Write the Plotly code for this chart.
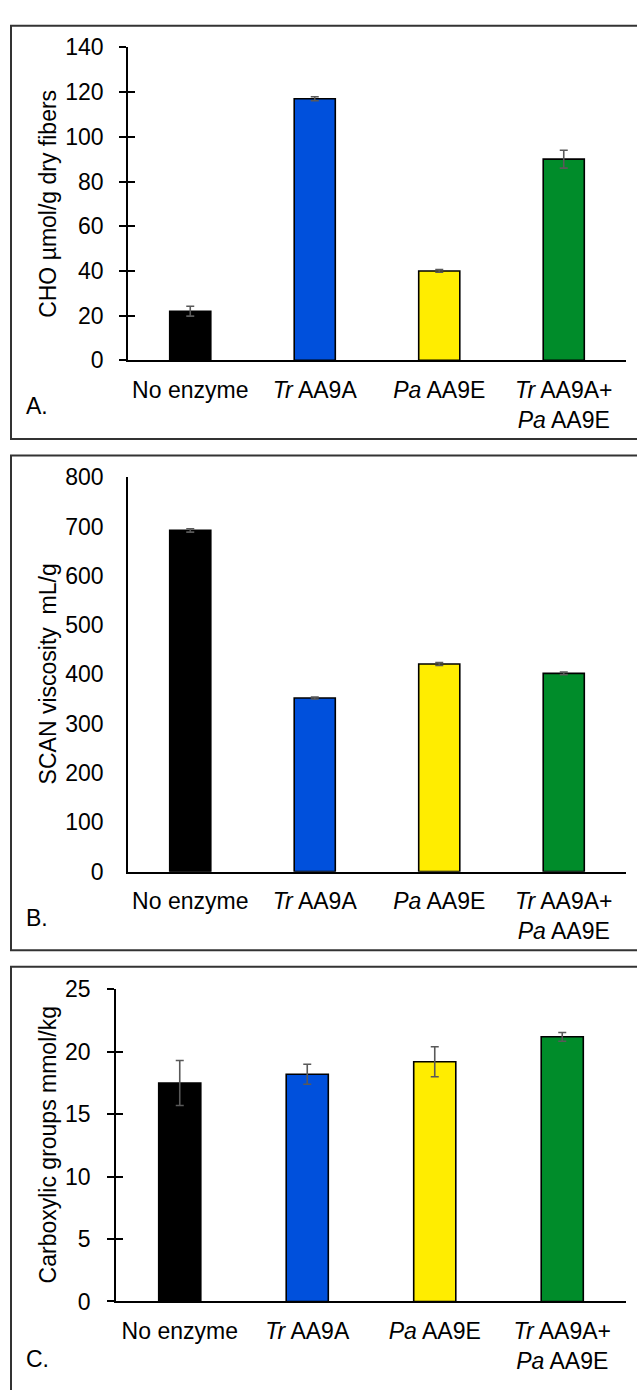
import plotly.graph_objects as go

W, H = 637, 1390

categories = ["No enzyme", "Tr AA9A", "Pa AA9E", "Tr AA9A+Pa AA9E"]
tick_labels = ["No enzyme", "<i>Tr</i> AA9A", "<i>Pa</i> AA9E", "<i>Tr</i> AA9A+<br><i>Pa</i> AA9E"]
bar_colors = ["#000000", "#0050DC", "#FFED00", "#008C2A"]

cho_values = [22, 117, 40, 90]
cho_errors = [2.2, 0.9, 0.6, 4.0]

visc_values = [692, 352, 421, 402]
visc_errors = [3.5, 2.0, 3.0, 2.5]

carb_values = [17.5, 18.2, 19.2, 21.2]
carb_errors = [1.8, 0.8, 1.2, 0.35]

FONT = "Arial, 'Liberation Sans', sans-serif"
FS = 23
TXT = "#000000"
ERRC = "#595959"


def px_x(p):
    return p / W


def px_y(p):
    return 1 - p / H


panels = [
    dict(v=cho_values, e=cho_errors, ymax=140, dtick=20, xd=(128, 626), yd=(35, 354), ticks=True,
         ystand=11, title="CHO µmol/g dry fibers", letter="A.", letter_y=401, box=(11, 13, 660, 434)),
    dict(v=visc_values, e=visc_errors, ymax=800, dtick=100, xd=(128, 626), yd=(473, 875), ticks=False,
         ystand=18, title="SCAN viscosity  mL/g", letter="B.", letter_y=922, box=(11, 451, 660, 955)),
    dict(v=carb_values, e=carb_errors, ymax=25, dtick=5, xd=(116, 626), yd=(995, 1313), ticks=True,
         ystand=12, title="Carboxylic groups mmol/kg", letter="C.", letter_y=1372, box=(11, 972, 660, 1420)),
]

XSTAND = 8

fig = go.Figure()
layout = dict(
    width=W, height=H, margin=dict(l=0, r=0, t=0, b=0),
    paper_bgcolor="white", plot_bgcolor="rgba(0,0,0,0)",
    showlegend=False, font=dict(family=FONT, size=FS, color=TXT),
    shapes=[], annotations=[],
)


def ax_names(n):
    return (f"x{n}" if n > 1 else "x", f"y{n}" if n > 1 else "y",
            f"xaxis{n}" if n > 1 else "xaxis", f"yaxis{n}" if n > 1 else "yaxis")


n = 1
for p in panels:
    xa, ya, xkey, ykey = ax_names(n)
    n += 1

    fig.add_trace(go.Bar(
        x=categories, y=p["v"], xaxis=xa, yaxis=ya,
        marker=dict(color=bar_colors, line=dict(color="#000000", width=1.6)),
        width=0.33,
        error_y=dict(type="data", array=p["e"], visible=True, color=ERRC, thickness=1.6, width=4),
        hoverinfo="skip",
    ))

    layout[xkey] = dict(
        domain=[px_x(p["xd"][0]), px_x(p["xd"][1])], anchor=ya,
        type="category", categoryorder="array", categoryarray=categories,
        range=[-0.5, 3.5], tickvals=categories, ticktext=tick_labels,
        ticks="", showline=True, linecolor="#000000", linewidth=1.6,
        showgrid=False, zeroline=False, tickfont=dict(family=FONT, size=FS, color=TXT),
        ticklabelstandoff=XSTAND, fixedrange=True,
    )
    layout[ykey] = dict(
        domain=[px_y(p["yd"][1]), px_y(p["yd"][0])], anchor=xa,
        range=[0, p["ymax"]], dtick=p["dtick"], tick0=0,
        ticks="outside" if p["ticks"] else "", ticklen=7, tickwidth=1.6, tickcolor="#000000",
        showline=True, linecolor="#000000", linewidth=1.6,
        showgrid=False, zeroline=False, tickfont=dict(family=FONT, size=FS, color=TXT),
        ticklabelstandoff=p["ystand"], fixedrange=True,
    )

    if p["ticks"]:
        # overlay y axis providing the inside half of the crossing tick marks
        _, ya2, _, ykey2 = ax_names(n)
        n += 1
        fig.add_trace(go.Scatter(
            x=categories, y=p["v"], xaxis=xa, yaxis=ya2, mode="markers",
            marker=dict(opacity=0), hoverinfo="skip",
        ))
        layout[ykey2] = dict(
            overlaying=ya, anchor=xa, side="left",
            range=[0, p["ymax"]], dtick=p["dtick"], tick0=0,
            ticks="inside", ticklen=7, tickwidth=1.6, tickcolor="#000000",
            showticklabels=False, showline=False, showgrid=False, zeroline=False,
            fixedrange=True,
        )

    # panel frame
    bx0, by0, bx1, by1 = p["box"]
    layout["shapes"].append(dict(
        type="rect", xref="paper", yref="paper",
        x0=px_x(bx0), x1=px_x(bx1), y0=px_y(by1), y1=px_y(by0),
        line=dict(color="#333333", width=2), fillcolor="rgba(0,0,0,0)", layer="below",
    ))
    # y-axis title
    layout["annotations"].append(dict(
        text=p["title"], xref="paper", yref="paper",
        x=px_x(48), y=px_y((p["yd"][0] + p["yd"][1]) / 2),
        xanchor="center", yanchor="middle", textangle=-90, showarrow=False,
        font=dict(family=FONT, size=FS, color=TXT),
    ))
    # panel letter
    layout["annotations"].append(dict(
        text=p["letter"], xref="paper", yref="paper",
        x=px_x(24), y=px_y(p["letter_y"]), xanchor="left", yanchor="middle",
        showarrow=False, font=dict(family=FONT, size=FS, color=TXT),
    ))

fig.update_layout(**layout)
fig.write_html("out.html", config={"displayModeBar": False})
